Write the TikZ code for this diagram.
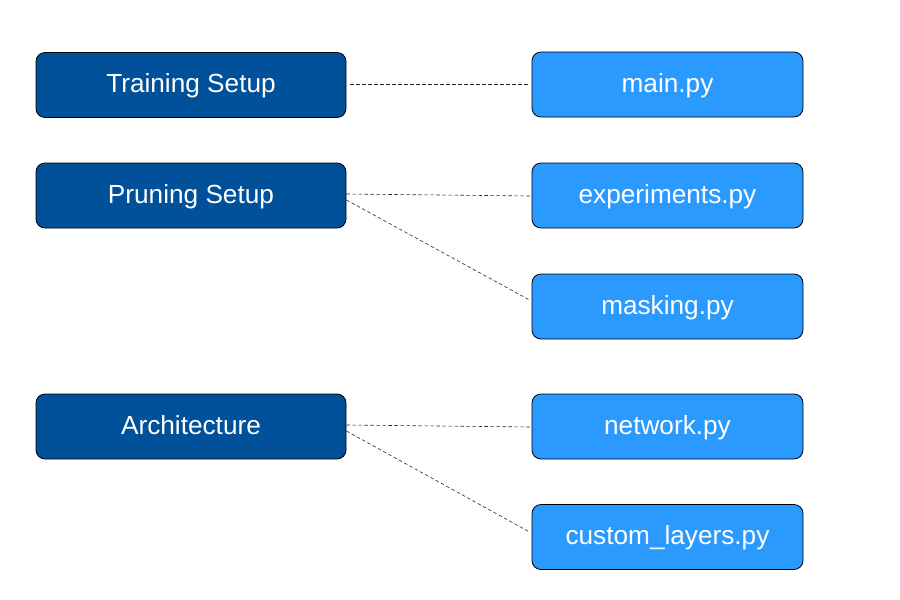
\documentclass[tikz,border=0pt]{standalone}
\usepackage{fontspec}
\setmainfont{Liberation Sans}
\definecolor{darkbox}{HTML}{00509A}
\definecolor{lightbox}{HTML}{2A9AFF}
\begin{document}
\begin{tikzpicture}[x=1pt,y=-1pt,
  box/.style={draw=black,line width=0.8pt,rounded corners=9pt,minimum height=65pt,text=white,
    font=\fontsize{26.2}{30}\selectfont,inner sep=0pt,text height=20.5pt,text depth=5.5pt},
  leftbox/.style={box,fill=darkbox,minimum width=310pt},
  rightbox/.style={box,fill=lightbox,minimum width=271pt},
  conn/.style={draw=black!85,dashed,dash pattern=on 3.5pt off 2.5pt,line width=0.6pt}]
\useasboundingbox (0,0) rectangle (900,600);
\node[leftbox] (train) at (191,85) {Training Setup};
\node[leftbox] (prune) at (191,195.5) {Pruning Setup};
\node[leftbox] (arch) at (191,426.5) {Architecture};
\node[rightbox] (main) at (667.5,84.5) {main.py};
\node[rightbox] (exp) at (667.5,195.5) {experiments.py};
\node[rightbox] (mask) at (667.5,306.5) {masking.py};
\node[rightbox] (net) at (667.5,426.5) {network.py};
\node[rightbox] (cust) at (667.5,537) {custom\_layers.py};
\coordinate (t1) at ([xshift=4pt,yshift=1pt]train.east);
\coordinate (m1) at ([xshift=-3pt,yshift=0.5pt]main.west);
\draw[conn] (t1) -- (m1);
\draw[conn] ([yshift=1.5pt]prune.east) -- ([yshift=-0.5pt]exp.west);
\draw[conn] ([yshift=-4.5pt]prune.east) -- ([xshift=-2pt,yshift=6.5pt]mask.west);
\draw[conn] ([yshift=1.5pt]arch.east) -- ([yshift=-0.5pt]net.west);
\draw[conn] ([yshift=-4.5pt]arch.east) -- ([xshift=-2pt,yshift=5pt]cust.west);
\end{tikzpicture}
\end{document}
